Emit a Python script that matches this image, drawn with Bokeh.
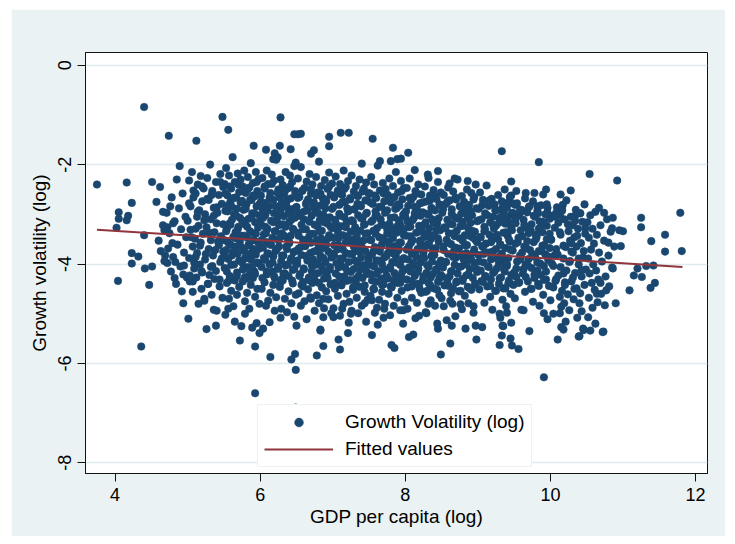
from bokeh.plotting import figure
from bokeh.models import Legend, LegendItem, FixedTicker
from bokeh.embed import file_html
from bokeh.resources import INLINE

# ---------------- data ----------------
top_gdp = [4.40, 5.48, 5.56, 4.74, 5.12, 6.28, 6.47, 6.52, 5.91, 6.08, 6.27, 6.20, 6.24, 6.18, 6.42, 6.49, 4.89, 7.11, 7.22, 6.95,
           6.95, 7.55, 6.74, 6.70, 7.83, 7.65, 7.80, 7.89, 7.94, 8.04, 9.33, 6.56, 8.13, 8.32, 8.45, 8.68, 8.61, 8.86, 9.46, 9.84,
           10.54, 10.92, 9.94, 10.28, 10.14, 9.66, 9.78, 9.53, 9.82, 10.17, 10.67, 10.74]
top_vol = [-0.84, -1.04, -1.30, -1.42, -1.52, -1.05, -1.39, -1.39, -1.62, -1.70, -1.62, -1.77, -1.85, -1.89, -1.69, -1.96, -2.03, -1.36, -1.36, -1.44,
           -1.63, -1.48, -1.71, -1.78, -1.66, -1.93, -1.93, -1.89, -1.88, -1.76, -1.73, -1.38, -2.11, -2.27, -2.13, -2.28, -2.38, -2.33, -2.34, -1.95,
           -2.19, -2.32, -2.50, -2.52, -2.60, -2.57, -2.57, -2.53, -2.84, -2.81, -2.87, -2.97]

left_gdp = [3.75, 4.16, 4.51, 4.23, 4.05, 4.18, 4.05, 4.16, 4.02, 4.40, 4.23, 4.32, 4.23, 4.41, 4.51, 4.04, 4.47, 4.36, 4.66, 4.76,
            4.80, 4.72, 4.68, 4.63, 4.69, 4.72, 4.83, 4.79, 4.82, 4.95, 4.94, 4.94, 5.07, 5.11]
left_vol = [-2.40, -2.36, -2.35, -2.77, -2.96, -3.03, -3.09, -3.12, -3.27, -3.42, -3.78, -3.85, -3.99, -4.09, -4.05, -4.34, -4.42, -5.66, -2.95, -2.84,
            -3.18, -3.26, -3.32, -3.74, -3.83, -3.98, -3.96, -3.58, -4.28, -4.03, -4.21, -4.79, -4.35, -3.86]

right_gdp = [10.86, 11.25, 11.79, 11.25, 11.58, 11.39, 11.58, 11.81, 10.97, 10.85, 10.95, 11.00, 10.80, 11.42, 11.32, 11.20, 11.15, 11.26, 11.44, 11.38,
             10.86, 11.09, 10.90, 10.75, 10.77, 10.69, 10.64, 9.46, 9.52, 9.59, 9.96, 10.08, 10.13, 10.34, 9.36]
right_vol = [-3.07, -3.07, -2.97, -3.26, -3.41, -3.54, -3.75, -3.74, -3.64, -3.28, -3.32, -3.34, -3.57, -4.03, -4.04, -4.09, -4.23, -4.26, -4.38, -4.48,
             -4.09, -4.53, -4.79, -4.83, -4.53, -4.38, -4.60, -2.62, -2.81, -2.95, -2.97, -2.97, -3.02, -3.03, -2.99]

bottom_gdp = [10.73, 10.62, 10.55, 10.52, 10.40, 10.45, 10.43, 10.15, 10.18, 10.13, 10.19, 9.91, 9.63, 9.40, 9.46, 9.35, 9.33, 9.47, 9.56, 9.30,
              9.91, 10.39, 10.72, 8.49, 8.62, 8.05, 7.81, 7.85, 7.08, 7.10, 6.87, 6.78, 6.49, 6.43, 6.48, 5.93, 6.14, 5.93, 5.72, 6.49,
              5.23, 5.36, 5.39, 5.65, 5.79, 5.95, 5.89, 5.99, 6.13, 6.28, 6.37, 6.50, 5.56, 6.83, 6.87, 7.01, 7.25, 7.22, 7.13, 7.62,
              7.44, 7.54, 7.71, 8.14, 7.97, 8.29, 8.32, 8.45, 8.64, 8.65, 8.76, 8.97, 8.94, 9.34, 6.87, 6.70]
bottom_vol = [-5.36, -5.20, -5.34, -5.07, -5.45, -5.30, -4.95, -5.27, -5.32, -4.99, -4.79, -4.99, -4.93, -4.98, -5.18, -5.25, -5.44, -5.64, -5.71, -5.63,
              -6.28, -5.46, -5.37, -5.82, -5.60, -5.47, -5.63, -5.69, -5.52, -5.72, -5.65, -5.84, -6.13, -5.92, -5.81, -6.60, -5.87, -5.66, -5.54, -6.89,
              -4.70, -4.92, -5.24, -5.16, -5.00, -5.19, -5.28, -5.39, -5.17, -5.08, -4.97, -5.24, -4.90, -5.32, -5.07, -5.07, -5.00, -5.18, -4.90, -5.22,
              -4.79, -4.73, -4.90, -5.09, -4.93, -4.99, -4.80, -5.30, -5.24, -4.80, -4.81, -5.24, -4.85, -5.24, -4.70, -4.70]

m_gdp = [4.85, 4.62, 4.93, 4.78, 4.57, 4.88, 4.71, 4.97, 4.82, 4.66, 4.91, 4.75, 4.98, 4.60, 4.86, 4.73, 4.95, 4.80, 4.68, 4.90, 4.77, 4.99, 4.84, 4.92]
m_vol = [-2.30, -2.45, -2.58, -2.66, -2.75, -2.88, -2.97, -3.05, -3.14, -3.22, -3.30, -3.38, -3.46, -3.53, -3.61, -3.69, -3.77, -3.86, -3.94, -4.05, -4.15, -4.27, -4.40, -4.55]

a_gdp = [5.31, 5.06, 5.45, 5.18, 5.27, 5.02, 5.39, 5.14, 5.49, 5.22, 5.34, 5.11, 5.43, 5.08, 5.29, 5.20, 5.47, 5.04, 5.36, 5.16, 5.41, 5.24, 5.13, 5.32, 5.00,
         5.40, 5.15, 5.26, 5.04, 5.37, 5.21, 5.46, 5.10, 5.32, 5.18, 5.43, 5.07, 5.29, 5.49, 5.13, 5.35, 5.02, 5.24, 5.45, 5.17, 5.34, 5.09, 5.39, 5.20, 5.30,
         5.12, 5.37, 5.03, 5.28, 5.44, 5.19, 5.07, 5.33, 5.48, 5.23, 5.15, 5.40, 5.01, 5.26]
a_vol = [-2.00, -2.15, -2.19, -2.23,
         -2.27, -2.32, -2.35, -2.40, -2.45, -2.48, -2.53, -2.58, -2.61, -2.66, -2.71, -2.74, -2.79, -2.84, -2.87, -2.92, -2.97, -3.00, -3.05, -3.10,
         -3.13, -3.18, -3.23, -3.26, -3.31, -3.36, -3.39, -3.44, -3.49, -3.52, -3.57, -3.62, -3.65, -3.70, -3.75, -3.78, -3.83, -3.88, -3.91, -3.96,
         -4.01, -4.04, -4.09, -4.14, -4.17, -4.22, -4.27, -4.30, -4.35, -4.40,
         -4.45, -4.50, -4.56, -4.62, -4.68, -4.74, -4.80, -4.94, -5.10, -5.31]
a2_gdp = [5.45, 5.20, 5.08, 5.33, 5.27, 5.02, 5.40, 5.14, 5.36, 5.23, 5.49, 5.11, 5.30, 5.05, 5.42, 5.17, 5.38, 5.25, 5.47, 5.09, 5.32, 5.19, 5.03, 5.44, 5.28]
a2_vol = [-2.35, -2.44, -2.52, -2.61, -2.69, -2.78, -2.86, -2.95, -3.03, -3.12, -3.20, -3.29, -3.37, -3.46, -3.55, -3.63, -3.72, -3.80, -3.89, -3.97,
          -4.06, -4.14, -4.23, -4.31, -4.40]

b_gdp = [5.62, 5.87, 5.53, 5.78, 5.94, 5.69, 5.57, 5.83, 5.98, 5.73, 5.65, 5.90, 5.51, 5.76, 5.85, 5.60, 5.96, 5.71, 5.80, 5.55, 5.92, 5.67, 5.88, 5.75, 5.59,
         5.81, 5.56, 5.95, 5.68, 5.77, 5.52, 5.89, 5.64, 5.99, 5.72, 5.84, 5.61, 5.93, 5.58, 5.79, 5.70, 5.97, 5.54, 5.86, 5.66, 5.91, 5.74, 5.63, 5.82, 5.50,
         5.72, 5.97, 5.59, 5.85, 5.66, 5.91, 5.53, 5.78, 5.69, 5.94, 5.61, 5.81, 5.56, 5.88, 5.75, 5.98, 5.64, 5.83, 5.51, 5.77, 5.92, 5.68, 5.86, 5.58, 5.79,
         5.90, 5.65, 5.76, 5.54, 5.87, 5.71, 5.96, 5.60, 5.82, 5.68, 5.93, 5.57, 5.79, 5.99, 5.63, 5.85, 5.52, 5.74]
b_vol = [-1.85, -1.97, -2.07, -2.12, -2.15, -2.18, -2.22,
         -2.25, -2.29, -2.30, -2.35, -2.37, -2.39, -2.44, -2.46, -2.48, -2.53, -2.55, -2.57, -2.62, -2.64, -2.66, -2.71, -2.73, -2.75, -2.80, -2.82,
         -2.84, -2.89, -2.91, -2.93, -2.98, -3.00, -3.02, -3.07, -3.09, -3.11, -3.16, -3.18, -3.20, -3.25, -3.27, -3.29, -3.34, -3.36, -3.38, -3.43,
         -3.45, -3.47, -3.52, -3.54, -3.56, -3.61, -3.63, -3.65, -3.70, -3.72, -3.74, -3.79, -3.81, -3.83, -3.88, -3.90, -3.92, -3.97, -3.99, -4.01,
         -4.06, -4.08, -4.10, -4.15, -4.17, -4.19, -4.24, -4.26, -4.28, -4.33, -4.35, -4.38,
         -4.42, -4.46, -4.50, -4.54, -4.58, -4.62, -4.66, -4.70, -4.75, -4.80, -4.85, -4.90, -5.02, -5.25]
b2_gdp = [5.95, 5.70, 5.58, 5.83, 5.77, 5.52, 5.90, 5.64, 5.86, 5.73, 5.99, 5.61, 5.80, 5.55, 5.92, 5.67, 5.88, 5.75, 5.97, 5.59, 5.82, 5.69, 5.53, 5.94, 5.78,
          5.66, 5.91, 5.56, 5.84, 5.74, 5.98, 5.63, 5.87, 5.51, 5.79, 5.71, 5.96, 5.60, 5.89, 5.76, 5.54, 5.93, 5.68, 5.81, 5.57]
b2_vol = [-2.35, -2.40, -2.44, -2.49, -2.53, -2.58, -2.62, -2.67, -2.71, -2.76, -2.80, -2.85, -2.89, -2.94, -2.98, -3.03, -3.07, -3.12, -3.16, -3.21,
          -3.25, -3.30, -3.34, -3.39, -3.43, -3.48, -3.52, -3.57, -3.61, -3.66, -3.70, -3.75, -3.79, -3.84, -3.88, -3.93, -3.97, -4.02, -4.06, -4.11,
          -4.15, -4.20, -4.24, -4.29, -4.33]

c_gdp = [6.22, 6.47, 6.09, 6.35, 6.16, 6.41, 6.03, 6.28, 6.19, 6.44, 6.11, 6.31, 6.06, 6.38, 6.25, 6.48, 6.14, 6.33, 6.01, 6.27, 6.42, 6.18, 6.36, 6.08, 6.29,
         6.12, 6.37, 6.03, 6.28, 6.44, 6.19, 6.07, 6.33, 6.48, 6.23, 6.15, 6.40, 6.01, 6.26, 6.35, 6.10, 6.46, 6.21, 6.30, 6.05, 6.42, 6.17, 6.38, 6.25, 6.09,
         6.40, 6.15, 6.26, 6.04, 6.37, 6.21, 6.46, 6.10, 6.32, 6.18, 6.43, 6.07, 6.29, 6.49, 6.13, 6.35, 6.02, 6.24, 6.45, 6.17, 6.34, 6.09, 6.39, 6.20, 6.30,
         6.31, 6.06, 6.45, 6.18, 6.27, 6.02, 6.39, 6.14, 6.49, 6.22, 6.34, 6.11, 6.43, 6.08, 6.29, 6.20, 6.47, 6.04]
c_vol = [-1.90, -2.03, -2.12, -2.15, -2.20, -2.22, -2.27,
         -2.30, -2.32, -2.35, -2.39, -2.41, -2.44, -2.48, -2.50, -2.53, -2.57, -2.59, -2.62, -2.66, -2.68, -2.71, -2.75, -2.77, -2.80, -2.84, -2.86,
         -2.89, -2.93, -2.95, -2.98, -3.02, -3.04, -3.07, -3.11, -3.13, -3.16, -3.20, -3.22, -3.25, -3.29, -3.31, -3.34, -3.38, -3.40, -3.43, -3.47,
         -3.49, -3.52, -3.56, -3.58, -3.61, -3.65, -3.67, -3.70, -3.74, -3.76, -3.79, -3.83, -3.85, -3.88, -3.92, -3.94, -3.97, -4.01, -4.03, -4.06,
         -4.10, -4.12, -4.15, -4.19, -4.21, -4.24, -4.28, -4.30, -4.33, -4.37, -4.39, -4.42,
         -4.46, -4.50, -4.55, -4.58, -4.62, -4.67, -4.70, -4.74, -4.79, -4.84, -4.90, -4.94, -5.06, -5.30]
c2_gdp = [6.16, 6.41, 6.06, 6.34, 6.24, 6.48, 6.13, 6.37, 6.01, 6.29, 6.21, 6.46, 6.10, 6.39, 6.26, 6.04, 6.43, 6.18, 6.31, 6.07,
          6.45, 6.20, 6.08, 6.33, 6.27, 6.02, 6.40, 6.14, 6.36, 6.23, 6.49, 6.11, 6.30, 6.05, 6.42, 6.17, 6.38, 6.25, 6.47, 6.09, 6.32, 6.19, 6.03, 6.44, 6.28]
c2_vol = [-2.39, -2.44, -2.48, -2.53, -2.57, -2.62, -2.66, -2.71, -2.75, -2.80, -2.84, -2.89, -2.93, -2.98, -3.02, -3.07, -3.11, -3.16, -3.20, -3.25,
          -3.29, -3.34, -3.38, -3.43, -3.47, -3.52, -3.56, -3.61, -3.65, -3.70, -3.74, -3.79, -3.83, -3.88, -3.92, -3.97, -4.01, -4.06, -4.10, -4.15,
          -4.19, -4.24, -4.28, -4.33, -4.37]

d_gdp = [6.81, 6.56, 6.95, 6.68, 6.77, 6.52, 6.89, 6.64, 6.99, 6.72, 6.84, 6.61, 6.93, 6.58, 6.79, 6.70, 6.97, 6.54, 6.86, 6.66, 6.91, 6.74, 6.63, 6.82, 6.50,
         6.90, 6.65, 6.76, 6.54, 6.87, 6.71, 6.96, 6.60, 6.82, 6.68, 6.93, 6.57, 6.79, 6.99, 6.63, 6.85, 6.52, 6.74, 6.95, 6.67, 6.84, 6.59, 6.89, 6.70, 6.80,
         6.62, 6.87, 6.53, 6.78, 6.94, 6.69, 6.57, 6.83, 6.98, 6.73, 6.65, 6.90, 6.51, 6.76, 6.85, 6.60, 6.96, 6.71, 6.80, 6.55, 6.92, 6.67, 6.88, 6.75, 6.59,
         6.72, 6.97, 6.59, 6.85, 6.66, 6.91, 6.53, 6.78, 6.69, 6.94, 6.61, 6.81, 6.56, 6.88, 6.75, 6.98, 6.64, 6.83]
d_vol = [-1.94, -2.05, -2.16, -2.19, -2.25, -2.28, -2.31,
         -2.34, -2.38, -2.40, -2.43, -2.47, -2.49, -2.52, -2.56, -2.58, -2.61, -2.65, -2.67, -2.70, -2.74, -2.76, -2.79, -2.83, -2.85, -2.88, -2.92,
         -2.94, -2.97, -3.01, -3.03, -3.06, -3.10, -3.12, -3.15, -3.19, -3.21, -3.24, -3.28, -3.30, -3.33, -3.37, -3.39, -3.42, -3.46, -3.48, -3.51,
         -3.55, -3.57, -3.60, -3.64, -3.66, -3.69, -3.73, -3.75, -3.78, -3.82, -3.84, -3.87, -3.91, -3.93, -3.96, -4.00, -4.02, -4.05, -4.09, -4.11,
         -4.14, -4.18, -4.20, -4.23, -4.27, -4.29, -4.32, -4.36, -4.38, -4.41, -4.45, -4.47,
         -4.51, -4.55, -4.59, -4.63, -4.67, -4.71, -4.75, -4.79, -4.84, -4.89, -4.94, -4.99, -5.11, -5.34]
d2_gdp = [6.95, 6.70, 6.58, 6.83, 6.77, 6.52, 6.90, 6.64, 6.86, 6.73, 6.99, 6.61, 6.80, 6.55, 6.92, 6.67, 6.88, 6.75, 6.97, 6.59, 6.82, 6.69, 6.53, 6.94, 6.78,
          6.66, 6.91, 6.56, 6.84, 6.74, 6.98, 6.63, 6.87, 6.51, 6.79, 6.71, 6.96, 6.60, 6.89, 6.76, 6.54, 6.93, 6.68, 6.81, 6.57]
d2_vol = [-2.44, -2.49, -2.53, -2.58, -2.62, -2.67, -2.71, -2.76, -2.80, -2.85, -2.89, -2.94, -2.98, -3.03, -3.07, -3.12, -3.16, -3.21, -3.25, -3.30,
          -3.34, -3.39, -3.43, -3.48, -3.52, -3.57, -3.61, -3.66, -3.70, -3.75, -3.79, -3.84, -3.88, -3.93, -3.97, -4.02, -4.06, -4.11, -4.15, -4.20,
          -4.24, -4.29, -4.33, -4.38, -4.42]

e_gdp = [7.40, 7.15, 7.26, 7.04, 7.37, 7.21, 7.46, 7.10, 7.32, 7.18, 7.43, 7.07, 7.29, 7.49, 7.13, 7.35, 7.02, 7.24, 7.45, 7.17, 7.34, 7.09, 7.39, 7.20, 7.30,
         7.22, 7.47, 7.09, 7.35, 7.16, 7.41, 7.03, 7.28, 7.19, 7.44, 7.11, 7.31, 7.06, 7.38, 7.25, 7.48, 7.14, 7.33, 7.01, 7.27, 7.42, 7.18, 7.36, 7.08, 7.29,
         7.31, 7.06, 7.45, 7.18, 7.27, 7.02, 7.39, 7.14, 7.49, 7.22, 7.34, 7.11, 7.43, 7.08, 7.29, 7.20, 7.47, 7.04, 7.36, 7.16, 7.41, 7.24, 7.13, 7.32, 7.00,
         7.12, 7.37, 7.03, 7.28, 7.44, 7.19, 7.07, 7.33, 7.48, 7.23, 7.15, 7.40, 7.01, 7.26, 7.35, 7.10, 7.46, 7.21]
e_vol = [-1.98, -2.12, -2.22, -2.24, -2.30, -2.33, -2.36,
         -2.39, -2.43, -2.45, -2.48, -2.52, -2.54, -2.57, -2.61, -2.63, -2.66, -2.70, -2.72, -2.75, -2.79, -2.81, -2.84, -2.88, -2.90, -2.93, -2.97,
         -2.99, -3.02, -3.06, -3.08, -3.11, -3.15, -3.17, -3.20, -3.24, -3.26, -3.29, -3.33, -3.35, -3.38, -3.42, -3.44, -3.47, -3.51, -3.53, -3.56,
         -3.60, -3.62, -3.65, -3.69, -3.71, -3.74, -3.78, -3.80, -3.83, -3.87, -3.89, -3.92, -3.96, -3.98, -4.01, -4.05, -4.07, -4.10, -4.14, -4.16,
         -4.19, -4.23, -4.25, -4.28, -4.32, -4.34, -4.37, -4.41, -4.43, -4.46, -4.50, -4.52,
         -4.56, -4.60, -4.64, -4.68, -4.72, -4.76, -4.80, -4.84, -4.89, -4.94, -4.99, -5.04, -5.16, -5.39]
e2_gdp = [7.16, 7.41, 7.06, 7.34, 7.24, 7.48, 7.13, 7.37, 7.01, 7.29, 7.21, 7.46, 7.10, 7.39, 7.26, 7.04, 7.43, 7.18, 7.31, 7.07,
          7.45, 7.20, 7.08, 7.33, 7.27, 7.02, 7.40, 7.14, 7.36, 7.23, 7.49, 7.11, 7.30, 7.05, 7.42, 7.17, 7.38, 7.25, 7.47, 7.09, 7.32, 7.19, 7.03, 7.44, 7.28]
e2_vol = [-2.49, -2.54, -2.58, -2.63, -2.67, -2.72, -2.76, -2.81, -2.85, -2.90, -2.94, -2.99, -3.03, -3.08, -3.12, -3.17, -3.21, -3.26, -3.30, -3.35,
          -3.39, -3.44, -3.48, -3.53, -3.57, -3.62, -3.66, -3.71, -3.75, -3.80, -3.84, -3.89, -3.93, -3.98, -4.02, -4.07, -4.11, -4.16, -4.20, -4.25,
          -4.29, -4.34, -4.38, -4.43, -4.47]

f_gdp = [7.62, 7.87, 7.53, 7.78, 7.94, 7.69, 7.57, 7.83, 7.98, 7.73, 7.65, 7.90, 7.51, 7.76, 7.85, 7.60, 7.96, 7.71, 7.80, 7.55, 7.92, 7.67, 7.88, 7.75, 7.59,
         7.72, 7.97, 7.59, 7.85, 7.66, 7.91, 7.53, 7.78, 7.69, 7.94, 7.61, 7.81, 7.56, 7.88, 7.75, 7.98, 7.64, 7.83, 7.51, 7.77, 7.92, 7.68, 7.86, 7.58, 7.79,
         7.90, 7.65, 7.76, 7.54, 7.87, 7.71, 7.96, 7.60, 7.82, 7.68, 7.93, 7.57, 7.79, 7.99, 7.63, 7.85, 7.52, 7.74, 7.95, 7.67, 7.84, 7.59, 7.89, 7.70, 7.80,
         7.81, 7.56, 7.95, 7.68, 7.77, 7.52, 7.89, 7.64, 7.99, 7.72, 7.84, 7.61, 7.93, 7.58, 7.79, 7.70, 7.97, 7.54]
f_vol = [-2.02, -2.15, -2.25, -2.28, -2.33, -2.37, -2.40,
         -2.43, -2.47, -2.49, -2.52, -2.56, -2.58, -2.61, -2.65, -2.67, -2.70, -2.74, -2.76, -2.79, -2.83, -2.85, -2.88, -2.92, -2.94, -2.97, -3.01,
         -3.03, -3.06, -3.10, -3.12, -3.15, -3.19, -3.21, -3.24, -3.28, -3.30, -3.33, -3.37, -3.39, -3.42, -3.46, -3.48, -3.51, -3.55, -3.57, -3.60,
         -3.64, -3.66, -3.69, -3.73, -3.75, -3.78, -3.82, -3.84, -3.87, -3.91, -3.93, -3.96, -4.00, -4.02, -4.05, -4.09, -4.11, -4.14, -4.18, -4.20,
         -4.23, -4.27, -4.29, -4.32, -4.36, -4.38, -4.41, -4.45, -4.47, -4.50, -4.54, -4.56,
         -4.60, -4.64, -4.68, -4.72, -4.76, -4.80, -4.84, -4.88, -4.93, -4.98, -5.03, -5.08, -5.20, -5.43]
f2_gdp = [7.95, 7.70, 7.58, 7.83, 7.77, 7.52, 7.90, 7.64, 7.86, 7.73, 7.99, 7.61, 7.80, 7.55, 7.92, 7.67, 7.88, 7.75, 7.97, 7.59, 7.82, 7.69, 7.53, 7.94, 7.78,
          7.66, 7.91, 7.56, 7.84, 7.74, 7.98, 7.63, 7.87, 7.51, 7.79, 7.71, 7.96, 7.60, 7.89, 7.76, 7.54, 7.93, 7.68, 7.81, 7.57]
f2_vol = [-2.53, -2.58, -2.62, -2.67, -2.71, -2.76, -2.80, -2.85, -2.89, -2.94, -2.98, -3.03, -3.07, -3.12, -3.16, -3.21, -3.25, -3.30, -3.34, -3.39,
          -3.43, -3.48, -3.52, -3.57, -3.61, -3.66, -3.70, -3.75, -3.79, -3.84, -3.88, -3.93, -3.97, -4.02, -4.06, -4.11, -4.15, -4.20, -4.24, -4.29,
          -4.33, -4.38, -4.42, -4.47, -4.51]

g_gdp = [8.31, 8.06, 8.45, 8.18, 8.27, 8.02, 8.39, 8.14, 8.49, 8.22, 8.34, 8.11, 8.43, 8.08, 8.29, 8.20, 8.47, 8.04, 8.36, 8.16, 8.41, 8.24, 8.13, 8.32, 8.00,
         8.12, 8.37, 8.03, 8.28, 8.44, 8.19, 8.07, 8.33, 8.48, 8.23, 8.15, 8.40, 8.01, 8.26, 8.35, 8.10, 8.46, 8.21, 8.30, 8.05, 8.42, 8.17, 8.38, 8.25, 8.09,
         8.40, 8.15, 8.26, 8.04, 8.37, 8.21, 8.46, 8.10, 8.32, 8.18, 8.43, 8.07, 8.29, 8.49, 8.13, 8.35, 8.02, 8.24, 8.45, 8.17, 8.34, 8.09, 8.39, 8.20, 8.30,
         8.22, 8.47, 8.09, 8.35, 8.16, 8.41, 8.03, 8.28, 8.19, 8.44, 8.11]
g_vol = [-2.20, -2.28, -2.35, -2.40, -2.44,
         -2.47, -2.51, -2.53, -2.56, -2.60, -2.62, -2.65, -2.69, -2.71, -2.74, -2.78, -2.80, -2.83, -2.87, -2.89, -2.92, -2.96, -2.98, -3.01, -3.05,
         -3.07, -3.10, -3.14, -3.16, -3.19, -3.23, -3.25, -3.28, -3.32, -3.34, -3.37, -3.41, -3.43, -3.46, -3.50, -3.52, -3.55, -3.59, -3.61, -3.64,
         -3.68, -3.70, -3.73, -3.77, -3.79, -3.82, -3.86, -3.88, -3.91, -3.95, -3.97, -4.00, -4.04, -4.06, -4.09, -4.13, -4.15, -4.18, -4.22, -4.24,
         -4.27, -4.31, -4.33, -4.36, -4.40, -4.42, -4.45, -4.49, -4.51, -4.54,
         -4.58, -4.63, -4.68, -4.73, -4.78, -4.84, -4.90, -4.97, -5.04, -5.20, -5.42]
g2_gdp = [8.16, 8.41, 8.06, 8.34, 8.24, 8.48, 8.13, 8.37, 8.01, 8.29, 8.21, 8.46, 8.10, 8.39, 8.26, 8.04, 8.43, 8.18, 8.31, 8.07,
          8.45, 8.20, 8.08, 8.33, 8.27, 8.02, 8.40, 8.14, 8.36, 8.23, 8.49, 8.11, 8.30, 8.05, 8.42, 8.17, 8.38, 8.25, 8.47, 8.09, 8.32, 8.19, 8.03, 8.44, 8.28]
g2_vol = [-2.58, -2.63, -2.67, -2.72, -2.76, -2.81, -2.85, -2.90, -2.94, -2.99, -3.03, -3.08, -3.12, -3.17, -3.21, -3.26, -3.30, -3.35, -3.39, -3.44,
          -3.48, -3.53, -3.57, -3.62, -3.66, -3.71, -3.75, -3.80, -3.84, -3.89, -3.93, -3.98, -4.02, -4.07, -4.11, -4.16, -4.20, -4.25, -4.29, -4.34,
          -4.38, -4.43, -4.47, -4.52, -4.56]

h_gdp = [8.72, 8.97, 8.59, 8.85, 8.66, 8.91, 8.53, 8.78, 8.69, 8.94, 8.61, 8.81, 8.56, 8.88, 8.75, 8.98, 8.64, 8.83, 8.51, 8.77, 8.92, 8.68, 8.86, 8.58, 8.79,
         8.90, 8.65, 8.76, 8.54, 8.87, 8.71, 8.96, 8.60, 8.82, 8.68, 8.93, 8.57, 8.79, 8.99, 8.63, 8.85, 8.52, 8.74, 8.95, 8.67, 8.84, 8.59, 8.89, 8.70, 8.80,
         8.81, 8.56, 8.95, 8.68, 8.77, 8.52, 8.89, 8.64, 8.99, 8.72, 8.84, 8.61, 8.93, 8.58, 8.79, 8.70, 8.97, 8.54, 8.86, 8.66, 8.91, 8.74, 8.63, 8.82, 8.50,
         8.62, 8.87, 8.53, 8.78, 8.94, 8.69, 8.57, 8.83, 8.98]
h_vol = [-2.30, -2.40, -2.46, -2.50, -2.54,
         -2.57, -2.61, -2.63, -2.66, -2.70, -2.72, -2.75, -2.79, -2.81, -2.84, -2.88, -2.90, -2.93, -2.97, -2.99, -3.02, -3.06, -3.08, -3.11, -3.15,
         -3.17, -3.20, -3.24, -3.26, -3.29, -3.33, -3.35, -3.38, -3.42, -3.44, -3.47, -3.51, -3.53, -3.56, -3.60, -3.62, -3.65, -3.69, -3.71, -3.74,
         -3.78, -3.80, -3.83, -3.87, -3.89, -3.92, -3.96, -3.98, -4.01, -4.05, -4.07, -4.10, -4.14, -4.16, -4.19, -4.23, -4.25, -4.28, -4.32, -4.34,
         -4.37, -4.41, -4.43, -4.46, -4.50, -4.52, -4.55, -4.59,
         -4.64, -4.69, -4.74, -4.79, -4.85, -4.91, -4.98, -5.05, -5.13, -5.30, -5.52]
h2_gdp = [8.95, 8.70, 8.58, 8.83, 8.77, 8.52, 8.90, 8.64, 8.86, 8.73, 8.99, 8.61, 8.80, 8.55, 8.92, 8.67, 8.88, 8.75, 8.97, 8.59, 8.82, 8.69, 8.53, 8.94, 8.78,
          8.66, 8.91, 8.56, 8.84, 8.74, 8.98, 8.63, 8.87, 8.51, 8.79, 8.71, 8.96, 8.60, 8.89, 8.76]
h2_vol = [-2.65, -2.70, -2.75, -2.80, -2.85, -2.90, -2.94, -2.99, -3.04, -3.09, -3.14, -3.19, -3.23, -3.28, -3.33, -3.38, -3.43, -3.48, -3.52, -3.57,
          -3.62, -3.67, -3.72, -3.77, -3.81, -3.86, -3.91, -3.96, -4.01, -4.06, -4.10, -4.15, -4.20, -4.25, -4.30, -4.35, -4.39, -4.44, -4.49, -4.54]

i_gdp = [9.12, 9.37, 9.03, 9.28, 9.44, 9.19, 9.07, 9.33, 9.48, 9.23, 9.15, 9.40, 9.01, 9.26, 9.35, 9.10, 9.46, 9.21, 9.30, 9.05, 9.42, 9.17, 9.38, 9.25, 9.09,
         9.22, 9.47, 9.09, 9.35, 9.16, 9.41, 9.03, 9.28, 9.19, 9.44, 9.11, 9.31, 9.06, 9.38, 9.25, 9.48, 9.14, 9.33, 9.01, 9.27, 9.42, 9.18, 9.36, 9.08, 9.29,
         9.40, 9.15, 9.26, 9.04, 9.37, 9.21, 9.46, 9.10, 9.32, 9.18, 9.43, 9.07, 9.29, 9.49, 9.13, 9.35, 9.02, 9.24, 9.45, 9.17, 9.34, 9.09, 9.39, 9.20, 9.30,
         9.31, 9.06, 9.45]
i_vol = [-2.42, -2.50, -2.56, -2.61,
         -2.65, -2.69, -2.71, -2.74, -2.78, -2.80, -2.83, -2.87, -2.89, -2.92, -2.96, -2.98, -3.01, -3.05, -3.07, -3.10, -3.14, -3.16, -3.19, -3.23,
         -3.25, -3.28, -3.32, -3.34, -3.37, -3.41, -3.43, -3.46, -3.50, -3.52, -3.55, -3.59, -3.61, -3.64, -3.68, -3.70, -3.73, -3.77, -3.79, -3.82,
         -3.86, -3.88, -3.91, -3.95, -3.97, -4.00, -4.04, -4.06, -4.09, -4.13, -4.15, -4.18, -4.22, -4.24, -4.27, -4.31, -4.33, -4.36, -4.40, -4.42,
         -4.45, -4.49, -4.51, -4.54,
         -4.60, -4.66, -4.72, -4.78, -4.85, -4.92, -5.00, -5.08, -5.27, -5.50]
i2_gdp = [9.16, 9.41, 9.06, 9.34, 9.24, 9.48, 9.13, 9.37, 9.01, 9.29, 9.21, 9.46, 9.10, 9.39, 9.26, 9.04, 9.43, 9.18, 9.31, 9.07,
          9.45, 9.20, 9.08, 9.33, 9.27, 9.02, 9.40, 9.14, 9.36, 9.23, 9.49, 9.11, 9.30, 9.05, 9.42, 9.17, 9.38, 9.25]
i2_vol = [-2.72, -2.77, -2.82, -2.87, -2.92, -2.97, -3.02, -3.07, -3.12, -3.17, -3.21, -3.26, -3.31, -3.36, -3.41, -3.46, -3.51, -3.56, -3.61, -3.66,
          -3.71, -3.75, -3.80, -3.85, -3.90, -3.95, -4.00, -4.05, -4.10, -4.15, -4.20, -4.25, -4.29, -4.34, -4.39, -4.44, -4.49, -4.54]

j_gdp = [9.90, 9.65, 9.76, 9.54, 9.87, 9.71, 9.96, 9.60, 9.82, 9.68, 9.93, 9.57, 9.79, 9.99, 9.63, 9.85, 9.52, 9.74, 9.95, 9.67, 9.84, 9.59, 9.89, 9.70, 9.80,
         9.81, 9.56, 9.95, 9.68, 9.77, 9.52, 9.89, 9.64, 9.99, 9.72, 9.84, 9.61, 9.93, 9.58, 9.79, 9.70, 9.97, 9.54, 9.86, 9.66, 9.91, 9.74, 9.63, 9.82, 9.50,
         9.62, 9.87, 9.53, 9.78, 9.94, 9.69, 9.57, 9.83, 9.98, 9.73, 9.65, 9.90, 9.51, 9.76, 9.85, 9.60, 9.96, 9.71]
j_vol = [-2.60, -2.68, -2.74,
         -2.78, -2.82, -2.84, -2.87, -2.91, -2.93, -2.96, -3.00, -3.02, -3.05, -3.09, -3.11, -3.14, -3.18, -3.20, -3.23, -3.27, -3.29, -3.32, -3.36,
         -3.38, -3.41, -3.45, -3.47, -3.50, -3.54, -3.56, -3.59, -3.63, -3.65, -3.68, -3.72, -3.74, -3.77, -3.81, -3.83, -3.86, -3.90, -3.92, -3.95,
         -3.99, -4.01, -4.04, -4.08, -4.10, -4.13, -4.17, -4.19, -4.22, -4.26, -4.28, -4.31, -4.35, -4.37, -4.40, -4.44,
         -4.50, -4.56, -4.62, -4.69, -4.76, -4.84, -4.92, -5.11, -5.35]
j2_gdp = [9.95, 9.70, 9.58, 9.83, 9.77, 9.52, 9.90, 9.64, 9.86, 9.73, 9.99, 9.61, 9.80, 9.55, 9.92, 9.67, 9.88, 9.75, 9.97, 9.59, 9.82, 9.69, 9.53, 9.94, 9.78,
          9.66, 9.91, 9.56, 9.84, 9.74]
j2_vol = [-2.80, -2.86, -2.92, -2.98, -3.03, -3.09, -3.15, -3.21, -3.27, -3.33, -3.39, -3.44, -3.50, -3.56, -3.62, -3.68, -3.74, -3.80, -3.85, -3.91,
          -3.97, -4.03, -4.09, -4.15, -4.21, -4.26, -4.32, -4.38, -4.44, -4.50]

k_gdp = [10.22, 10.47, 10.09, 10.35, 10.16, 10.41, 10.03, 10.28, 10.19, 10.44, 10.11, 10.31, 10.06, 10.38, 10.25, 10.48, 10.14, 10.33, 10.01, 10.27,
         10.42, 10.18, 10.36, 10.08, 10.29,
         10.31, 10.06, 10.45, 10.18, 10.27, 10.02, 10.39, 10.14, 10.49, 10.22, 10.34, 10.11, 10.43, 10.08, 10.29, 10.20, 10.47, 10.04, 10.36, 10.16,
         10.41, 10.24, 10.13, 10.32, 10.00,
         10.40, 10.15, 10.26, 10.04, 10.37, 10.21, 10.46, 10.10]
k_vol = [-2.72, -2.80,
         -2.86, -2.91, -2.93, -2.98, -3.03, -3.05, -3.10, -3.15, -3.17, -3.22, -3.27, -3.29, -3.34, -3.39, -3.41, -3.46, -3.51, -3.53, -3.58, -3.63,
         -3.65, -3.70, -3.75, -3.77, -3.82, -3.87, -3.89, -3.94, -3.99, -4.01, -4.06, -4.11, -4.13, -4.18, -4.23, -4.25, -4.30, -4.35, -4.37, -4.42,
         -4.47, -4.49, -4.54, -4.59, -4.61, -4.66, -4.71, -4.73,
         -4.79, -4.86, -4.93, -5.00, -5.08, -5.16, -5.33, -5.52]
k2_gdp = [10.16, 10.41, 10.06, 10.34, 10.24, 10.48, 10.13, 10.37, 10.01, 10.29, 10.21, 10.46, 10.10, 10.39, 10.26, 10.04, 10.43, 10.18, 10.31, 10.07,
          10.20, 10.33]
k2_vol = [-2.90, -2.98, -3.05, -3.13, -3.20, -3.28, -3.36, -3.43, -3.51, -3.58, -3.66, -3.74, -3.81, -3.89, -3.96, -4.04, -4.12, -4.19, -4.27, -4.34,
          -4.42, -4.50]

l_gdp = [10.62, 10.55, 10.78, 10.51, 10.69, 10.58, 10.83, 10.64, 10.53, 10.74, 10.60, 10.88, 10.56, 10.67, 10.80, 10.52, 10.71, 10.59, 10.85, 10.63,
         10.54, 10.76, 10.66, 10.57, 10.81, 10.61, 10.70, 10.53, 10.65, 10.58]
l_vol = [-2.95, -3.02, -3.10, -3.16, -3.22, -3.29, -3.35, -3.41, -3.47, -3.53, -3.59, -3.65, -3.71, -3.77, -3.83, -3.89, -3.95, -4.01, -4.07, -4.13,
         -4.19, -4.25, -4.31, -4.38, -4.45, -4.52, -4.60, -4.68, -4.77, -4.88]

# fitted values (end points of the fitted line)
fit_gdp = [3.75, 11.82]
fit_vol = [-3.31, -4.06]

x_ticks = [4, 6, 8, 10, 12]
y_ticks = [-8, -6, -4, -2, 0]

# ---------------- assemble ----------------
groups = [(top_gdp, top_vol), (left_gdp, left_vol), (right_gdp, right_vol), (bottom_gdp, bottom_vol),
          (m_gdp, m_vol), (a_gdp, a_vol), (a2_gdp, a2_vol), (b_gdp, b_vol), (b2_gdp, b2_vol),
          (c_gdp, c_vol), (c2_gdp, c2_vol), (d_gdp, d_vol), (d2_gdp, d2_vol), (e_gdp, e_vol), (e2_gdp, e2_vol),
          (f_gdp, f_vol), (f2_gdp, f2_vol), (g_gdp, g_vol), (g2_gdp, g2_vol), (h_gdp, h_vol), (h2_gdp, h2_vol),
          (i_gdp, i_vol), (i2_gdp, i2_vol), (j_gdp, j_vol), (j2_gdp, j2_vol), (k_gdp, k_vol), (k2_gdp, k2_vol),
          (l_gdp, l_vol)]
gdp, vol = [], []
for xs, ys in groups:
    n = min(len(xs), len(ys))
    gdp += xs[:n]
    vol += ys[:n]

FONT = "Liberation Sans"
NAVY = "#1A476F"
MAROON = "#90353B"
BG = "#EAF2F3"

p = figure(width=714, height=527, x_range=(3.592, 12.165), y_range=(-8.215, 0.256),
           output_backend="svg", toolbar_location=None,
           min_border_left=74, min_border_right=18, min_border_top=43, min_border_bottom=63)
p.margin = (9, 0, 0, 11)
p.border_fill_color = BG
p.background_fill_color = "white"
p.outline_line_color = "#111111"
p.outline_line_width = 1

sc = p.scatter(gdp, vol, size=7.6, marker="circle", fill_color=NAVY, line_color=NAVY, line_width=0.5)
ln = p.line(fit_gdp, fit_vol, line_color=MAROON, line_width=2)

p.xgrid.grid_line_color = None
p.ygrid.grid_line_color = "#DFE9EE"
p.ygrid.grid_line_width = 1.5
p.xaxis.ticker = FixedTicker(ticks=x_ticks)
p.yaxis.ticker = FixedTicker(ticks=y_ticks)
p.yaxis.major_label_overrides = {t: str(t) for t in y_ticks}

for ax in (p.xaxis[0], p.yaxis[0]):
    ax.axis_line_color = "#111111"
    ax.major_tick_line_color = "#111111"
    ax.major_tick_out = 8
    ax.major_tick_in = 0
    ax.minor_tick_line_color = None
    ax.major_label_text_font = FONT
    ax.major_label_text_font_size = "18px"
    ax.major_label_text_color = "black"
    ax.axis_label_text_font = FONT
    ax.axis_label_text_font_size = "19px"
    ax.axis_label_text_font_style = "normal"
    ax.axis_label_text_color = "black"

p.xaxis.axis_label = "GDP per capita (log)"
p.yaxis.axis_label = "Growth volatility (log)"
p.xaxis.major_label_standoff = 6
p.xaxis.axis_label_standoff = 2
p.yaxis.major_label_standoff = 6
p.yaxis.axis_label_standoff = 6
p.yaxis.major_label_orientation = "vertical"

legend = Legend(items=[LegendItem(label="Growth Volatility (log)", renderers=[sc]),
                       LegendItem(label="Fitted values", renderers=[ln])],
                location=(172, 6))
legend.margin = 0
legend.padding = 6
legend.spacing = 5
legend.glyph_width = 69
legend.glyph_height = 22
legend.label_height = 22
legend.label_standoff = 12
legend.label_text_font = FONT
legend.label_text_font_size = "19px"
legend.label_text_color = "black"
legend.border_line_color = "#DCE6EA"
legend.border_line_width = 1
legend.background_fill_color = "white"
legend.background_fill_alpha = 1
p.add_layout(legend)

open("out.html", "w").write(file_html(p, INLINE))
